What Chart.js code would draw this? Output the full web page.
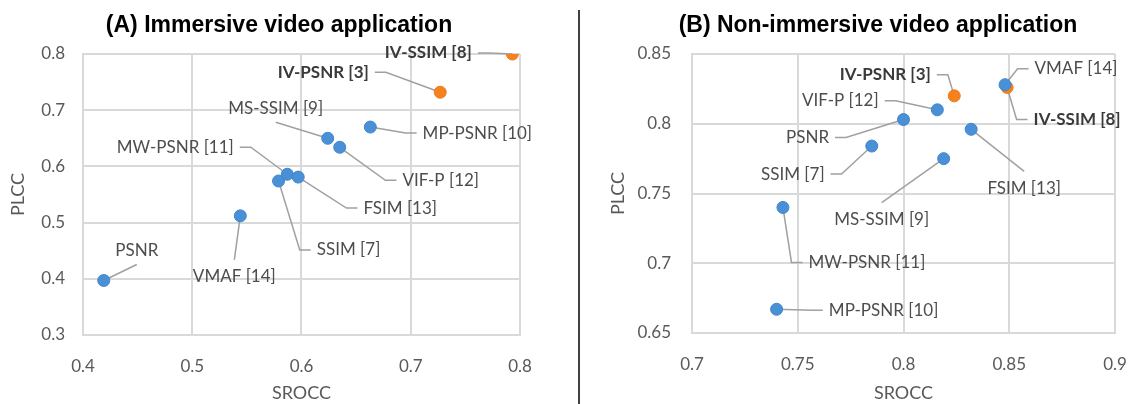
<!DOCTYPE html>
<html lang="en">
<head>
<meta charset="UTF-8">
<title>SROCC vs PLCC</title>
<script src="https://cdn.jsdelivr.net/npm/chart.js"></script>
<style>
  body { margin: 0; background: #fff; }
  #wrap { position: relative; width: 1131px; height: 404px; overflow: hidden; }
  .panel { position: absolute; top: 0; }
  .ttl { position: absolute; top: 13px; font: bold 23px "Liberation Sans", Arial, sans-serif; line-height: 23px;
         color: #000; white-space: nowrap; transform: translateX(-50%); }
  #divider { position: absolute; left: 578px; top: 10px; width: 2px; height: 394px; background: #404040; }
</style>
</head>
<body>
<div id="wrap">
  <canvas id="chartA" class="panel" width="570" height="404" style="left:0"></canvas>
  <canvas id="chartB" class="panel" width="551" height="404" style="left:580px"></canvas>
  <div class="ttl" style="left:279px">(A) Immersive video application</div>
  <div class="ttl" style="left:878px">(B) Non-immersive video application</div>
  <div id="divider"></div>
</div>
<script>
// metrics, same order in every array below
const metrics  = ['PSNR', 'SSIM [7]', 'MS-SSIM [9]', 'MP-PSNR [10]', 'MW-PSNR [11]', 'VIF-P [12]', 'FSIM [13]', 'VMAF [14]', 'IV-PSNR [3]', 'IV-SSIM [8]'];
const proposed = [false, false, false, false, false, false, false, false, true, true];

// (A) immersive video
const srccA = [0.419, 0.579, 0.624, 0.663, 0.587, 0.635, 0.597, 0.544, 0.727, 0.793];
const plccA = [0.397, 0.574, 0.650, 0.670, 0.586, 0.634, 0.581, 0.512, 0.732, 0.800];
// (B) non-immersive video
const srccB = [0.800, 0.785, 0.819, 0.740, 0.743, 0.816, 0.832, 0.848, 0.824, 0.849];
const plccB = [0.803, 0.784, 0.775, 0.667, 0.740, 0.810, 0.796, 0.828, 0.820, 0.826];

const xTicksA = [0.4, 0.5, 0.6, 0.7, 0.8];
const yTicksA = [0.3, 0.4, 0.5, 0.6, 0.7, 0.8];
const xTicksB = [0.7, 0.75, 0.8, 0.85, 0.9];
const yTicksB = [0.65, 0.7, 0.75, 0.8, 0.85];

// label placement: [dx, dy, side of the label the leader line leaves from]
const placeA = [[33,-30,'b'], [70,69,'l'], [-52,-30,'b'], [107,6,'l'], [-112,-27,'r'],
                [101,33,'l'], [102,31,'l'], [-6,61,'t'], [-117,-20,'r'], [-84,-1,'r']];
const placeB = [[-96,18,'r'], [-79,28,'r'], [-62,61,'t'], [107,1,'l'], [84,55,'l'],
                [-97,-9,'r'], [53,59,'t'], [71,-16,'l'], [-69,-21,'r'], [70,32,'l']];

const fmt = v => String(Math.round(v * 100) / 100);

function labelBoxes(chart, o) {
  const ctx = chart.ctx, xs = chart.scales.x, ys = chart.scales.y;
  return metrics.map((name, i) => {
    const px = xs.getPixelForValue(o.xv[i]), py = ys.getPixelForValue(o.yv[i]);
    const [dx, dy, side] = o.place[i];
    const bold = proposed[i];
    ctx.font = (bold ? 'bold ' : '') + '17px Lato';
    const w = ctx.measureText(name).width;
    return { name, px, py, cx: px + dx, cy: py + dy, w, side, bold };
  });
}

const leaderLabels = {
  id: 'leaderLabels',
  beforeDatasetsDraw(chart, args, o) {
    const ctx = chart.ctx;
    ctx.save();
    ctx.strokeStyle = '#a0a0a0';
    ctx.lineWidth = 1.5;
    labelBoxes(chart, o).forEach(b => {
      ctx.beginPath();
      if (b.side === 'l') {
        const sx = b.cx - b.w / 2 - 6;
        ctx.moveTo(sx, b.cy); ctx.lineTo(sx - 11, b.cy);
      } else if (b.side === 'r') {
        const sx = b.cx + b.w / 2 + 6;
        ctx.moveTo(sx, b.cy); ctx.lineTo(sx + 11, b.cy);
      } else if (b.side === 't') {
        ctx.moveTo(b.cx, b.cy - 17);
      } else {
        ctx.moveTo(b.cx, b.cy + 14);
      }
      ctx.lineTo(b.px, b.py);
      ctx.stroke();
    });
    ctx.restore();
  },
  afterDatasetsDraw(chart, args, o) {
    const ctx = chart.ctx;
    ctx.save();
    ctx.textAlign = 'center';
    ctx.textBaseline = 'middle';
    labelBoxes(chart, o).forEach(b => {
      ctx.font = (b.bold ? 'bold ' : '') + '17px Lato';
      ctx.fillStyle = b.bold ? '#3a3a3a' : '#4d4d4d';
      ctx.fillText(b.name, b.cx, b.cy);
    });
    ctx.restore();
  }
};

// x axis: the gap under the plot comes from an invisible tick, so it does not widen the right margin
function xAxis(ticks, fit, gap) {
  return {
    type: 'linear',
    min: ticks[0],
    max: ticks[ticks.length - 1],
    afterBuildTicks: s => { s.ticks = ticks.map(v => ({ value: v })); },
    afterFit: fit,
    grid: { color: '#d9d9d9', lineWidth: 2, drawTicks: true, tickLength: gap, tickColor: 'rgba(0,0,0,0)' },
    border: { color: '#d9d9d9', width: 2 },
    ticks: { padding: 0, color: '#595959', font: { family: 'Lato', size: 17 }, callback: v => fmt(v) },
    title: { display: true, text: 'SROCC', color: '#595959', font: { family: 'Lato', size: 18 }, padding: { top: 4, bottom: 0 } }
  };
}

function yAxis(ticks, fit, gap) {
  return {
    type: 'linear',
    min: ticks[0],
    max: ticks[ticks.length - 1],
    afterBuildTicks: s => { s.ticks = ticks.map(v => ({ value: v })); },
    afterFit: fit,
    grid: { color: '#d9d9d9', lineWidth: 2, drawTicks: false },
    border: { color: '#d9d9d9', width: 2 },
    ticks: { padding: gap, color: '#595959', font: { family: 'Lato', size: 17 }, callback: v => fmt(v) },
    title: { display: true, text: 'PLCC', color: '#595959', font: { family: 'Lato', size: 18 }, padding: { top: 4, bottom: 4 } }
  };
}

function makeChart(id, xv, yv, xTicks, yTicks, place, lay) {
  const others = [], ours = [];
  metrics.forEach((m, i) => (proposed[i] ? ours : others).push({ x: xv[i], y: yv[i] }));
  return new Chart(document.getElementById(id), {
    type: 'scatter',
    data: {
      datasets: [
        { label: 'existing', data: others, backgroundColor: '#4a90d6', borderColor: '#3f86cc', borderWidth: 1, pointRadius: 6 },
        { label: 'proposed', data: ours, backgroundColor: '#f5821f', borderColor: '#ee7a18', borderWidth: 1, pointRadius: 6 }
      ]
    },
    options: {
      responsive: false,
      animation: false,
      devicePixelRatio: 1,
      layout: { padding: { left: lay.padL, right: lay.padR, top: 54, bottom: 0 } },
      plugins: {
        legend: { display: false },
        tooltip: { enabled: false },
        leaderLabels: { xv, yv, place }
      },
      scales: {
        x: xAxis(xTicks, s => { s.height = lay.xH; }, lay.xTickPad),
        y: yAxis(yTicks, s => { s.width = lay.yW; }, lay.yTickPad)
      }
    },
    plugins: [leaderLabels]
  });
}

makeChart('chartA', srccA, plccA, xTicksA, yTicksA, placeA,
  { padL: 3, padR: 50, yW: 80, xH: 69, yTickPad: 18, xTickPad: 21 });
makeChart('chartB', srccB, plccB, xTicksB, yTicksB, placeB,
  { padL: 23, padR: 16, yW: 89, xH: 71, yTickPad: 21, xTickPad: 21 });
</script>
</body>
</html>
